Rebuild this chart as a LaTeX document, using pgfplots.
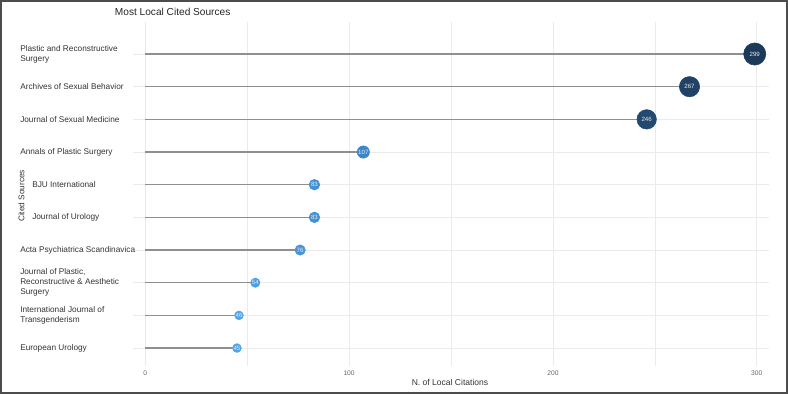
\documentclass[border=0pt]{standalone}
\usepackage{pgfplots}
\pgfplotsset{compat=1.18}
\usepackage{pgfplotstable}
\usepackage{fontspec}
\setmainfont{Liberation Sans}

\pgfplotstableread{
y v
10 299
9 267
8 246
7 107
6 83
5 83
4 76
3 54
2 46
1 45
}\datatable

\definecolor{gridc}{HTML}{EBEBEB}
\definecolor{segc}{HTML}{8F8F8F}
\definecolor{labc}{HTML}{333333}
\definecolor{tickc}{HTML}{666666}
\definecolor{c299}{RGB}{27,58,90}
\definecolor{c267}{RGB}{31,66,102}
\definecolor{c246}{RGB}{34,73,112}
\definecolor{c107}{RGB}{58,134,204}
\definecolor{c83}{RGB}{67,145,213}
\definecolor{c76}{RGB}{70,149,217}
\definecolor{c54}{RGB}{76,159,228}
\definecolor{c46}{RGB}{79,163,232}

\pgfplotsset{dot/.style 2 args={only marks, mark=*, mark size=#1,
  mark options={draw=#2, fill=#2}, color=#2,
  point meta=x, nodes near coords,
  nodes near coords style={font=\fontsize{4.6}{4.6}\selectfont, text=white!92!black, anchor=center, inner sep=0pt}}}

\begin{document}
\begin{tikzpicture}
\useasboundingbox (0,0) rectangle (591pt,295.5pt);
\begin{axis}[
 at={(99.75pt,21pt)}, anchor=south west,
 scale only axis, width=477pt, height=258pt,
 xmin=-6, xmax=306, ymin=0.45, ymax=10.98,
 axis line style={draw=none}, tick style={draw=none},
 xtick={0,100,200,300}, minor xtick={50,150,250},
 xmajorgrids, xminorgrids, ymajorgrids,
 grid style={gridc, line width=0.5pt},
 minor grid style={gridc, line width=0.5pt},
 /pgf/number format/assume math mode=true,
 xticklabel style={font=\fontsize{5}{5}\selectfont, text=tickc},
 ytick={1,...,10},
 yticklabels={European Urology,{International Journal of\\Transgenderism},{Journal of Plastic,\\Reconstructive \& Aesthetic\\Surgery},Acta Psychiatrica Scandinavica,{\hspace*{9pt}Journal of Urology},{\hspace*{9pt}BJU International},Annals of Plastic Surgery,Journal of Sexual Medicine,Archives of Sexual Behavior,{Plastic and Reconstructive\\Surgery}},
 yticklabel style={anchor=west, align=left, inner sep=0pt, xshift=-84.75pt, font=\fontsize{6.2}{7.6}\selectfont, text=labc},
 clip=false,
]
\addplot[xcomb, segc, line width=0.85pt, no markers] table[x=v,y=y]{\datatable};
\addplot[dot={8.3pt}{c299}] coordinates {(299,10)};
\addplot[dot={7.6pt}{c267}] coordinates {(267,9)};
\addplot[dot={7.3pt}{c246}] coordinates {(246,8)};
\addplot[dot={4.6pt}{c107}] coordinates {(107,7)};
\addplot[dot={4.0pt}{c83}] coordinates {(83,6)};
\addplot[dot={4.0pt}{c83}] coordinates {(83,5)};
\addplot[dot={3.9pt}{c76}] coordinates {(76,4)};
\addplot[dot={3.5pt}{c54}] coordinates {(54,3)};
\addplot[dot={3.3pt}{c46}] coordinates {(46,2)};
\addplot[dot={3.3pt}{c46}] coordinates {(45,1)};
\end{axis}
\node[font=\fontsize{7.6}{7.6}\selectfont, text=black!85] at (129.5pt,286.5pt) {Most Local Cited Sources};
\node[font=\fontsize{6.4}{6.4}\selectfont, text=labc] at (337.5pt,8.5pt) {N. of Local Citations};
\node[font=\fontsize{6.2}{6.2}\selectfont, text=labc, rotate=90] at (16pt,148.5pt) {Cited Sources};
\draw[color=black!70, line width=1.2pt] (0.6pt,0.6pt) rectangle (590.4pt,294.9pt);
\end{tikzpicture}
\end{document}
